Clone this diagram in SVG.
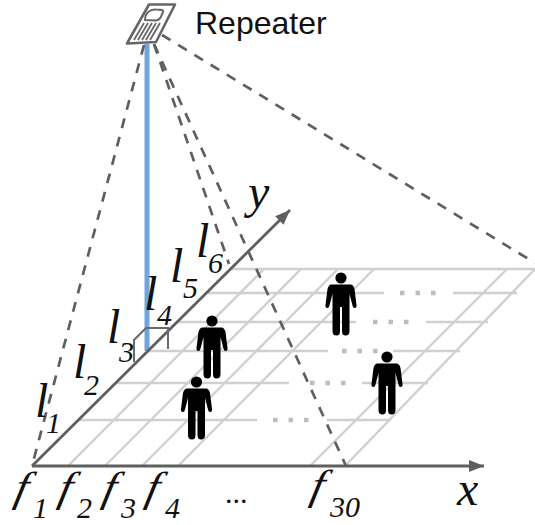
<svg xmlns="http://www.w3.org/2000/svg" width="535" height="525" viewBox="0 0 535 525">
<style>
.g{stroke:#d0d0d0;stroke-width:2.4;fill:none}
.d{stroke:#bdbdbd;stroke-width:4.5;fill:none;stroke-dasharray:4.5 11}
.da{stroke:#5f5f5f;stroke-width:2.7;fill:none;stroke-dasharray:10 9}
.ax{stroke:#5f5f5f;stroke-width:2.8;fill:none}
.m{font-family:"Liberation Serif",serif;font-style:italic;font-size:48px;fill:#111}
.f{font-family:"Liberation Serif",serif;font-style:italic;font-size:42px;fill:#111}
.s{font-family:"Liberation Serif",serif;font-style:italic;font-size:30px;fill:#111}
</style>
<defs>
<marker id="arr" markerUnits="userSpaceOnUse" markerWidth="18" markerHeight="14" refX="15" refY="6" orient="auto"><path d="M0 0L15 6L0 12Z" fill="#5f5f5f"/></marker>
<g id="person" fill="#000">
<circle cx="0" cy="0" r="5.600"/>
<path d="M-10 6.500H10Q12.500 7 13.500 11L15.500 27Q16 30 13.500 30Q12 30 11.500 27.500L8.500 16V53Q8.500 57.500 4.500 57.500Q1 57.500 1 53V29H-1V53Q-1 57.500 -4.500 57.500Q-8.500 57.500 -8.500 53V16L-11.500 27.500Q-12 30 -13.500 30Q-16 30 -15.500 27L-13.500 11Q-12.500 7 -10 6.500Z"/>
</g>
</defs>
<g id="grid">
<path class="g" d="M230 269H535M205 293H384M453 293H517M178 322H356M426 322H488M147 351H328M393 351H460M115 383H289M362 383H428M78 420H257M327 420H391"/>
<path class="g" d="M68 466L264 269M105 466L301 269M142 466L338 269M178 466L374 269M310 466L507 269M345 466L535 269"/>
<path class="d" d="M400 293H436M373 322H409M342 351H378M310 383H346M273 420H309"/>
</g>
<g id="connectors">
<path d="M147 44V351" stroke="#6fa5dc" stroke-width="5" fill="none"/>
<path class="da" d="M144 45L32 466"/>
<path class="da" d="M154 44L229 264"/>
<path class="da" d="M154 44L346 466"/>
<path class="da" d="M162 35L535 263"/>
<path class="ax" d="M32 466L290 210" marker-end="url(#arr)"/>
<path class="ax" d="M32 466H484" marker-end="url(#arr)"/>
<path d="M134 362V340L146 328H168V349" stroke="#6a6a6a" stroke-width="2" fill="none"/>
</g>
<g id="repeater">
<path d="M149 4.500H175L156 42L127 43.500Z" fill="#fff" stroke="#666" stroke-width="2.600" stroke-linejoin="round"/>
<path d="M145 20C145 13 150 9 156 9.500C161 9.500 164 10 163 12C161 17 160 20 156 20.500Z" fill="#fff" stroke="#666" stroke-width="2"/>
<path d="M144 23L134 40M148 23L138 40M152 23L142 40M156 23L146 40M160 23L150 40" stroke="#666" stroke-width="1.800" fill="none"/>
<text x="195" y="34" font-family="Liberation Sans,Arial,sans-serif" font-size="32" fill="#111">Repeater</text>
</g>
<g id="person1"><use href="#person" x="212" y="321"/></g>
<g id="person2"><use href="#person" x="196.500" y="382"/></g>
<g id="person3"><use href="#person" x="341" y="278"/></g>
<g id="person4"><use href="#person" x="387" y="357"/></g>
<g id="labels">
<text class="m" x="35" y="417">l</text><text class="s" x="46" y="433">1</text>
<text class="m" x="73" y="378">l</text><text class="s" x="84" y="395">2</text>
<text class="m" x="107" y="343">l</text><text class="s" x="119" y="362">3</text>
<text class="m" x="144" y="310">l</text><text class="s" x="157" y="325">4</text>
<text class="m" x="170" y="282">l</text><text class="s" x="183" y="298">5</text>
<text class="m" x="196" y="257">l</text><text class="s" x="208" y="273">6</text>
<text class="m" x="248" y="208">y</text>
<text class="m" x="457" y="505">x</text>
<text class="f" transform="translate(13 501) skewX(-12) scale(1.1 1)">f</text><text class="s" x="33" y="518">1</text>
<text class="f" transform="translate(57 501) skewX(-12) scale(1.1 1)">f</text><text class="s" x="77" y="518">2</text>
<text class="f" transform="translate(101 501) skewX(-12) scale(1.1 1)">f</text><text class="s" x="121" y="518">3</text>
<text class="f" transform="translate(144 501) skewX(-12) scale(1.1 1)">f</text><text class="s" x="165" y="518">4</text>
<text x="225" y="503" font-family="Liberation Serif,serif" font-size="30" fill="#111">...</text>
<text class="f" transform="translate(309 499) skewX(-12) scale(1.1 1)">f</text><text class="s" x="330" y="517">30</text>
</g>
</svg>
